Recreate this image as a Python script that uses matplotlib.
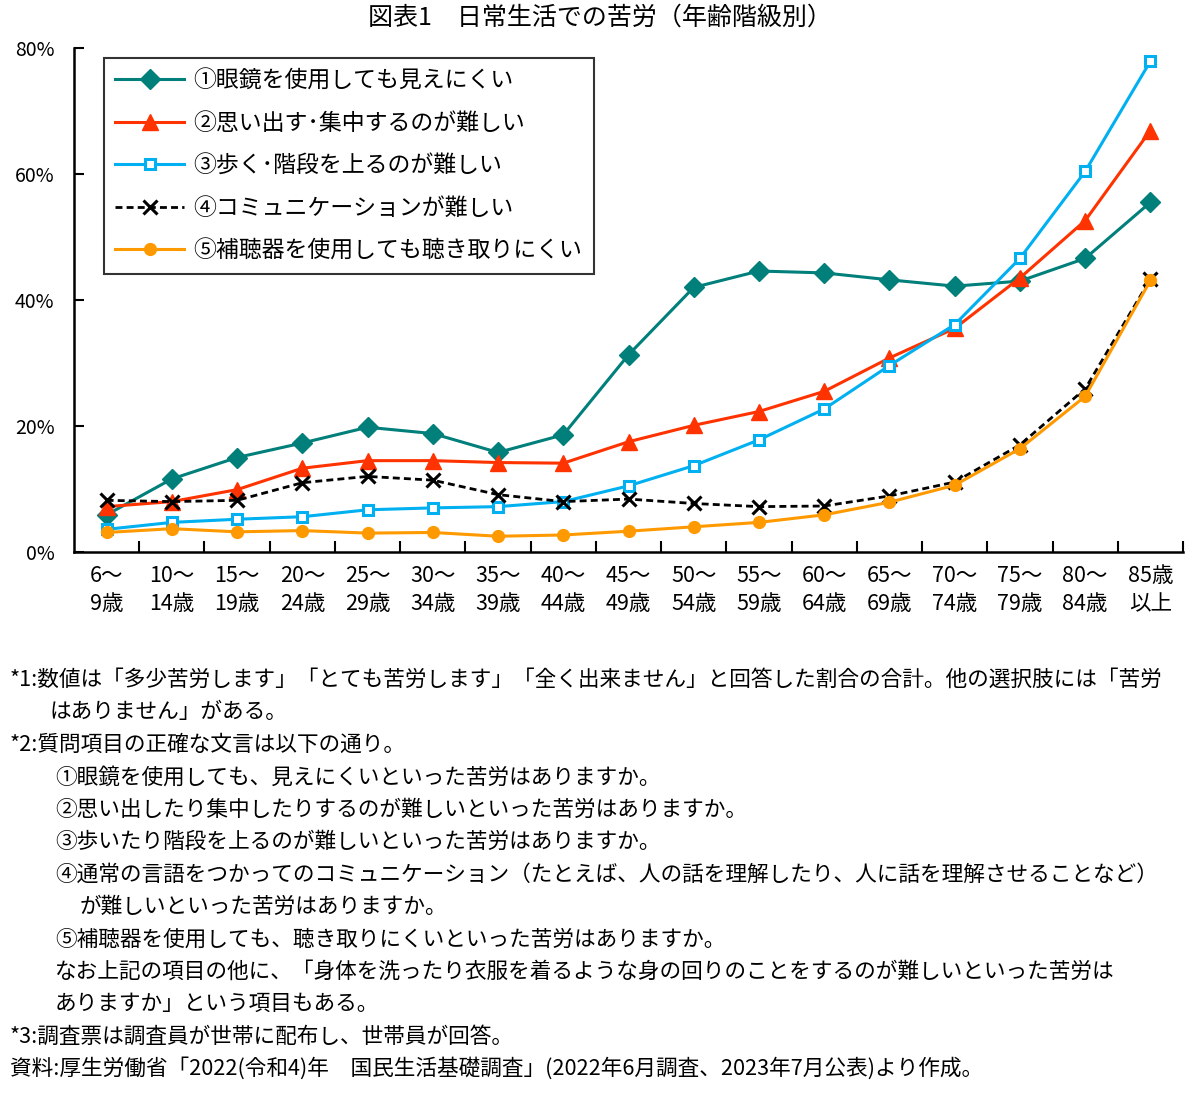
import matplotlib
matplotlib.use("Agg")
import matplotlib.pyplot as plt
from matplotlib.ticker import FixedLocator, FuncFormatter

plt.rcParams['font.family'] = ['Noto Sans CJK JP', 'DejaVu Sans']

categories = ["6～\n9歳", "10～\n14歳", "15～\n19歳", "20～\n24歳", "25～\n29歳", "30～\n34歳",
              "35～\n39歳", "40～\n44歳", "45～\n49歳", "50～\n54歳", "55～\n59歳", "60～\n64歳",
              "65～\n69歳", "70～\n74歳", "75～\n79歳", "80～\n84歳", "85歳\n以上"]

s1_vision = [5.9, 11.6, 15.0, 17.3, 19.8, 18.8, 15.8, 18.6, 31.3, 42.0, 44.6, 44.3, 43.2, 42.2, 43.0, 46.6, 55.5]
s2_memory = [7.2, 8.0, 9.9, 13.3, 14.5, 14.5, 14.2, 14.1, 17.5, 20.1, 22.3, 25.5, 30.8, 35.5, 43.5, 52.6, 66.9]
s3_walk = [3.6, 4.7, 5.2, 5.6, 6.7, 7.0, 7.2, 8.0, 10.5, 13.7, 17.8, 22.7, 29.6, 36.1, 46.6, 60.4, 77.9]
s4_comm = [8.2, 8.0, 8.2, 11.0, 12.0, 11.4, 9.1, 8.0, 8.4, 7.7, 7.2, 7.3, 8.9, 11.1, 17.0, 25.9, 43.3]
s5_hear = [3.1, 3.7, 3.2, 3.4, 3.0, 3.1, 2.5, 2.7, 3.3, 4.0, 4.7, 5.9, 7.9, 10.6, 16.4, 24.7, 43.1]

labels = ["①眼鏡を使用しても見えにくい", "②思い出す･集中するのが難しい", "③歩く･階段を上るのが難しい",
          "④コミュニケーションが難しい", "⑤補聴器を使用しても聴き取りにくい"]

y_ticks = [0, 20, 40, 60, 80]

title = "図表1　日常生活での苦労（年齢階級別）"

notes = [
    (10, "*1:数値は「多少苦労します」「とても苦労します」「全く出来ません」と回答した割合の合計。他の選択肢には「苦労"),
    (50, "はありません」がある。"),
    (10, "*2:質問項目の正確な文言は以下の通り。"),
    (55, "①眼鏡を使用しても、見えにくいといった苦労はありますか。"),
    (55, "②思い出したり集中したりするのが難しいといった苦労はありますか。"),
    (55, "③歩いたり階段を上るのが難しいといった苦労はありますか。"),
    (55, "④通常の言語をつかってのコミュニケーション（たとえば、人の話を理解したり、人に話を理解させることなど）"),
    (80, "が難しいといった苦労はありますか。"),
    (55, "⑤補聴器を使用しても、聴き取りにくいといった苦労はありますか。"),
    (55, "なお上記の項目の他に、「身体を洗ったり衣服を着るような身の回りのことをするのが難しいといった苦労は"),
    (55, "ありますか」という項目もある。"),
    (10, "*3:調査票は調査員が世帯に配布し、世帯員が回答。"),
    (10, "資料:厚生労働省「2022(令和4)年　国民生活基礎調査」(2022年6月調査、2023年7月公表)より作成。"),
]

W, H = 1200, 1094
fig = plt.figure(figsize=(W / 100, H / 100), dpi=100)
ax = fig.add_axes([74 / W, 1 - 552 / H, (1183 - 74) / W, (552 - 48) / H])

x = list(range(len(categories)))
ax.plot(x, s1_vision, color='#007F7B', lw=2.2, marker='D', ms=10, mec='#007F7B', label=labels[0], zorder=3)
ax.plot(x, s2_memory, color='#FF3300', lw=2.2, marker='^', ms=11, mec='#FF3300', label=labels[1], zorder=4)
ax.plot(x, s3_walk, color='#00B0F0', lw=2.2, marker='s', ms=7.5, mfc='white', mec='#00B0F0', mew=2.2,
        label=labels[2], zorder=5)
ax.plot(x, s4_comm, color='black', lw=2.0, ls=(0, (2.5, 1.5)), marker='x', ms=10, mew=2.2,
        label=labels[3], zorder=6)
ax.plot(x, s5_hear, color='#FF9900', lw=2.2, marker='o', ms=8.5, mec='#FF9900', label=labels[4], zorder=7)

ax.set_xlim(-0.5, len(categories) - 0.5)
ax.set_ylim(0, 80)
ax.set_yticks(y_ticks)
ax.yaxis.set_major_formatter(FuncFormatter(lambda v, p: f"{v:.0f}%"))
ax.set_xticks(x)
ax.set_xticklabels(categories, fontsize=15.5, linespacing=1.4)
ax.xaxis.set_minor_locator(FixedLocator([i + 0.5 for i in range(len(categories))]))
ax.tick_params(axis='x', which='major', length=0, pad=9)
ax.tick_params(axis='x', which='minor', direction='in', length=8, width=1.5)
ax.tick_params(axis='y', direction='in', length=7, width=1.5, labelsize=14, pad=14)

for side in ['top', 'right']:
    ax.spines[side].set_visible(False)
for side in ['left', 'bottom']:
    ax.spines[side].set_linewidth(1.8)

leg = ax.legend(loc='upper left', bbox_to_anchor=((104 - 74) / 1109, (552 - 58) / 504),
                borderaxespad=0, fontsize=16.5, frameon=True, fancybox=False, edgecolor='black',
                handlelength=3.0, handletextpad=0.4, labelspacing=0.85, borderpad=0.5)
leg.get_frame().set_linewidth(1.5)

fig.text(0.5, 1 - 18 / H, title, ha='center', va='center', fontsize=18)

y0 = 680
for i, (xx, t) in enumerate(notes):
    fig.text(xx / W, 1 - (y0 + i * 32.4) / H, t, ha='left', va='center', fontsize=15.6)

fig.savefig("out.png", dpi=100)
